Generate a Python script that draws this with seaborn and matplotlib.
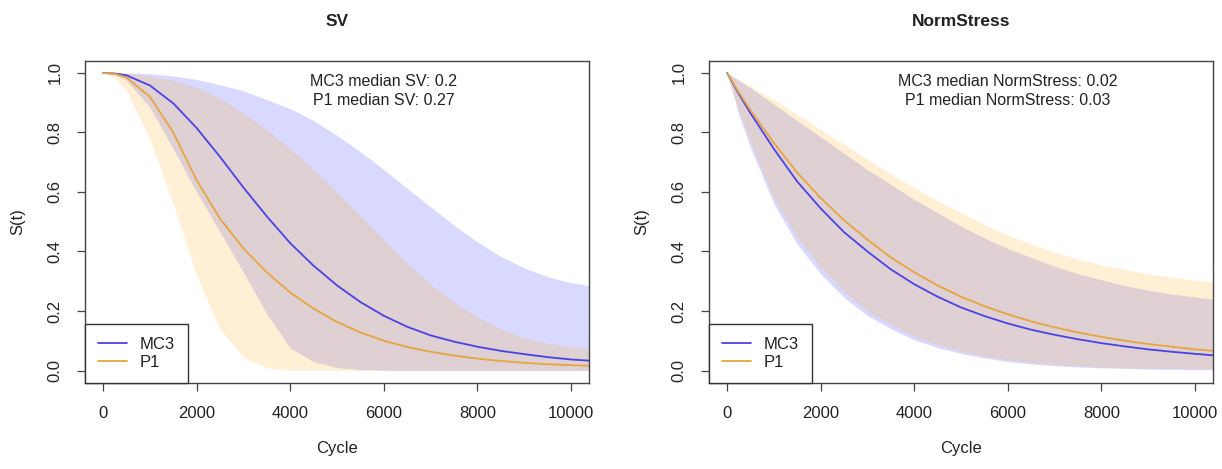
import matplotlib.pyplot as plt
import pandas
import seaborn as sns
from matplotlib.lines import Line2D
from pandas import DataFrame

FIGURE_PATH: str = "out.png"

# Cycle grid shared by every curve
CYCLES = [0, 250, 500, 1000, 1500, 2000, 2500, 3000, 3500, 4000, 4500, 5000,
          5500, 6000, 6500, 7000, 7500, 8000, 8500, 9000, 9500, 10000, 10400]

# SV panel
SV_MC3_MEDIAN = [1.0, 0.998, 0.992, 0.958, 0.898, 0.815, 0.718, 0.615, 0.518, 0.428, 0.352, 0.286,
                 0.23, 0.184, 0.147, 0.118, 0.097, 0.08, 0.066, 0.055, 0.045, 0.037, 0.033]
SV_MC3_LOWER = [1.0, 0.995, 0.975, 0.885, 0.745, 0.6, 0.465, 0.33, 0.19, 0.075, 0.03, 0.01,
                0.003, 0.001, 0.0, 0.0, 0.0, 0.0, 0.0, 0.0, 0.0, 0.0, 0.0]
SV_MC3_UPPER = [1.0, 1.0, 1.0, 0.997, 0.99, 0.978, 0.96, 0.94, 0.91, 0.88, 0.84, 0.79,
                0.735, 0.675, 0.612, 0.55, 0.488, 0.432, 0.383, 0.345, 0.315, 0.295, 0.285]
SV_P1_MEDIAN = [1.0, 0.997, 0.985, 0.92, 0.8, 0.64, 0.51, 0.41, 0.33, 0.262, 0.208, 0.163,
                0.128, 0.1, 0.079, 0.063, 0.05, 0.04, 0.032, 0.026, 0.021, 0.018, 0.016]
SV_P1_LOWER = [1.0, 0.985, 0.94, 0.78, 0.56, 0.32, 0.14, 0.045, 0.01, 0.0, 0.0, 0.0,
               0.0, 0.0, 0.0, 0.0, 0.0, 0.0, 0.0, 0.0, 0.0, 0.0, 0.0]
SV_P1_UPPER = [1.0, 1.0, 0.998, 0.99, 0.975, 0.95, 0.915, 0.865, 0.81, 0.745, 0.675, 0.6,
               0.52, 0.44, 0.36, 0.29, 0.23, 0.18, 0.14, 0.11, 0.092, 0.08, 0.073]

# NormStress panel
NS_MC3_MEDIAN = [1.0, 0.93, 0.865, 0.745, 0.635, 0.545, 0.465, 0.4, 0.34, 0.29, 0.248, 0.212,
                 0.183, 0.158, 0.137, 0.12, 0.105, 0.092, 0.081, 0.071, 0.063, 0.056, 0.051]
NS_MC3_LOWER = [1.0, 0.86, 0.75, 0.56, 0.425, 0.325, 0.245, 0.185, 0.14, 0.103, 0.077, 0.057,
                0.042, 0.03, 0.022, 0.016, 0.012, 0.009, 0.007, 0.005, 0.004, 0.003, 0.003]
NS_MC3_UPPER = [1.0, 0.975, 0.95, 0.895, 0.84, 0.785, 0.73, 0.675, 0.625, 0.575, 0.53, 0.485,
                0.445, 0.41, 0.38, 0.35, 0.325, 0.305, 0.285, 0.27, 0.257, 0.247, 0.24]
NS_P1_MEDIAN = [1.0, 0.935, 0.875, 0.765, 0.665, 0.58, 0.505, 0.44, 0.38, 0.33, 0.286, 0.248,
                0.216, 0.189, 0.165, 0.145, 0.128, 0.113, 0.1, 0.089, 0.08, 0.071, 0.066]
NS_P1_LOWER = [1.0, 0.87, 0.765, 0.58, 0.45, 0.345, 0.265, 0.2, 0.155, 0.115, 0.087, 0.065,
               0.048, 0.036, 0.027, 0.02, 0.015, 0.012, 0.009, 0.007, 0.006, 0.005, 0.005]
NS_P1_UPPER = [1.0, 0.978, 0.955, 0.91, 0.86, 0.81, 0.76, 0.71, 0.66, 0.615, 0.57, 0.53,
               0.49, 0.455, 0.425, 0.398, 0.375, 0.355, 0.34, 0.325, 0.313, 0.303, 0.297]

MODELS = ["MC3", "P1"]
LINE_COLORS = {"MC3": "#4a42e4", "P1": "#e6a53e"}
FILL_COLORS = {"MC3": "#0000ff", "P1": "#ffa500"}

PANELS = [
    ("SV", "0.2", "0.27",
     {"MC3": (SV_MC3_MEDIAN, SV_MC3_LOWER, SV_MC3_UPPER),
      "P1": (SV_P1_MEDIAN, SV_P1_LOWER, SV_P1_UPPER)}),
    ("NormStress", "0.02", "0.03",
     {"MC3": (NS_MC3_MEDIAN, NS_MC3_LOWER, NS_MC3_UPPER),
      "P1": (NS_P1_MEDIAN, NS_P1_LOWER, NS_P1_UPPER)}),
]

TEXT_COLOR = "#222222"


def build_frame(curves: dict) -> DataFrame:
    frames = []
    for model in MODELS:
        median, lower, upper = curves[model]
        frames.append(DataFrame({"Cycle": CYCLES, "S": median, "lo": lower,
                                 "hi": upper, "model": model}))
    return pandas.concat(frames, ignore_index=True)


def draw_panel(ax, name: str, mc3_med: str, p1_med: str, curves: dict) -> None:
    df = build_frame(curves)

    # Bands first, then median lines on top
    for model, alpha in (("MC3", 0.15), ("P1", 0.17)):
        sub = df[df["model"] == model]
        ax.fill_between(sub["Cycle"], sub["lo"], sub["hi"],
                        color=FILL_COLORS[model], alpha=alpha, linewidth=0)

    sns.lineplot(data=df, x="Cycle", y="S", hue="model", palette=LINE_COLORS,
                 linewidth=1.3, legend=False, ax=ax, estimator=None)

    ax.set_xlim(-385, 10385)
    ax.set_ylim(-0.042, 1.04)
    ax.set_xticks([0, 2000, 4000, 6000, 8000, 10000])
    ax.set_yticks([0.0, 0.2, 0.4, 0.6, 0.8, 1.0])
    ax.set_yticklabels(["0.0", "0.2", "0.4", "0.6", "0.8", "1.0"])

    ax.tick_params(axis="both", direction="out", length=5.8, width=0.9,
                   color="#444444", labelsize=12, labelcolor=TEXT_COLOR)
    ax.tick_params(axis="x", pad=11)
    ax.tick_params(axis="y", pad=10.5)
    for lbl in ax.get_yticklabels():
        lbl.set_rotation(90)
        lbl.set_va("center")

    for spine in ax.spines.values():
        spine.set_visible(True)
        spine.set_color("#444444")
        spine.set_linewidth(1.0)

    ax.set_title(name, fontsize=12.5, fontweight="bold", color=TEXT_COLOR, pad=25)
    ax.set_xlabel("Cycle", fontsize=12, color=TEXT_COLOR, labelpad=14)
    ax.set_ylabel("S(t)", fontsize=12, color=TEXT_COLOR, labelpad=16)

    # Median annotations at the top
    ax.text(6000, 0.97, f"MC3 median {name}: {mc3_med}", ha="center", va="center",
            fontsize=11.5, color=TEXT_COLOR)
    ax.text(6000, 0.908, f"P1 median {name}: {p1_med}", ha="center", va="center",
            fontsize=11.5, color=TEXT_COLOR)

    handles = [Line2D([], [], color=LINE_COLORS[m], linewidth=1.3) for m in MODELS]
    leg = ax.legend(handles, MODELS, loc="lower left", bbox_to_anchor=(0, 0),
                    borderaxespad=0, fancybox=False, framealpha=1, edgecolor="#333333",
                    fontsize=12, handlelength=1.7, handletextpad=0.8,
                    borderpad=0.8, labelspacing=0.15)
    leg.get_frame().set_linewidth(1.0)
    for t in leg.get_texts():
        t.set_color(TEXT_COLOR)


def main() -> None:
    sns.set_theme(style="ticks")
    plt.rcParams["font.family"] = ["Liberation Sans", "DejaVu Sans"]

    fig = plt.figure(figsize=(12.22, 4.69), dpi=100)
    ax_left = fig.add_axes([85 / 1222, 1 - 383 / 469, 504 / 1222, 322 / 469])
    ax_right = fig.add_axes([709 / 1222, 1 - 383 / 469, 504 / 1222, 322 / 469])

    for ax, (name, mc3_med, p1_med, curves) in zip((ax_left, ax_right), PANELS):
        draw_panel(ax, name, mc3_med, p1_med, curves)

    fig.savefig(FIGURE_PATH, dpi=100)


if __name__ == "__main__":
    main()
